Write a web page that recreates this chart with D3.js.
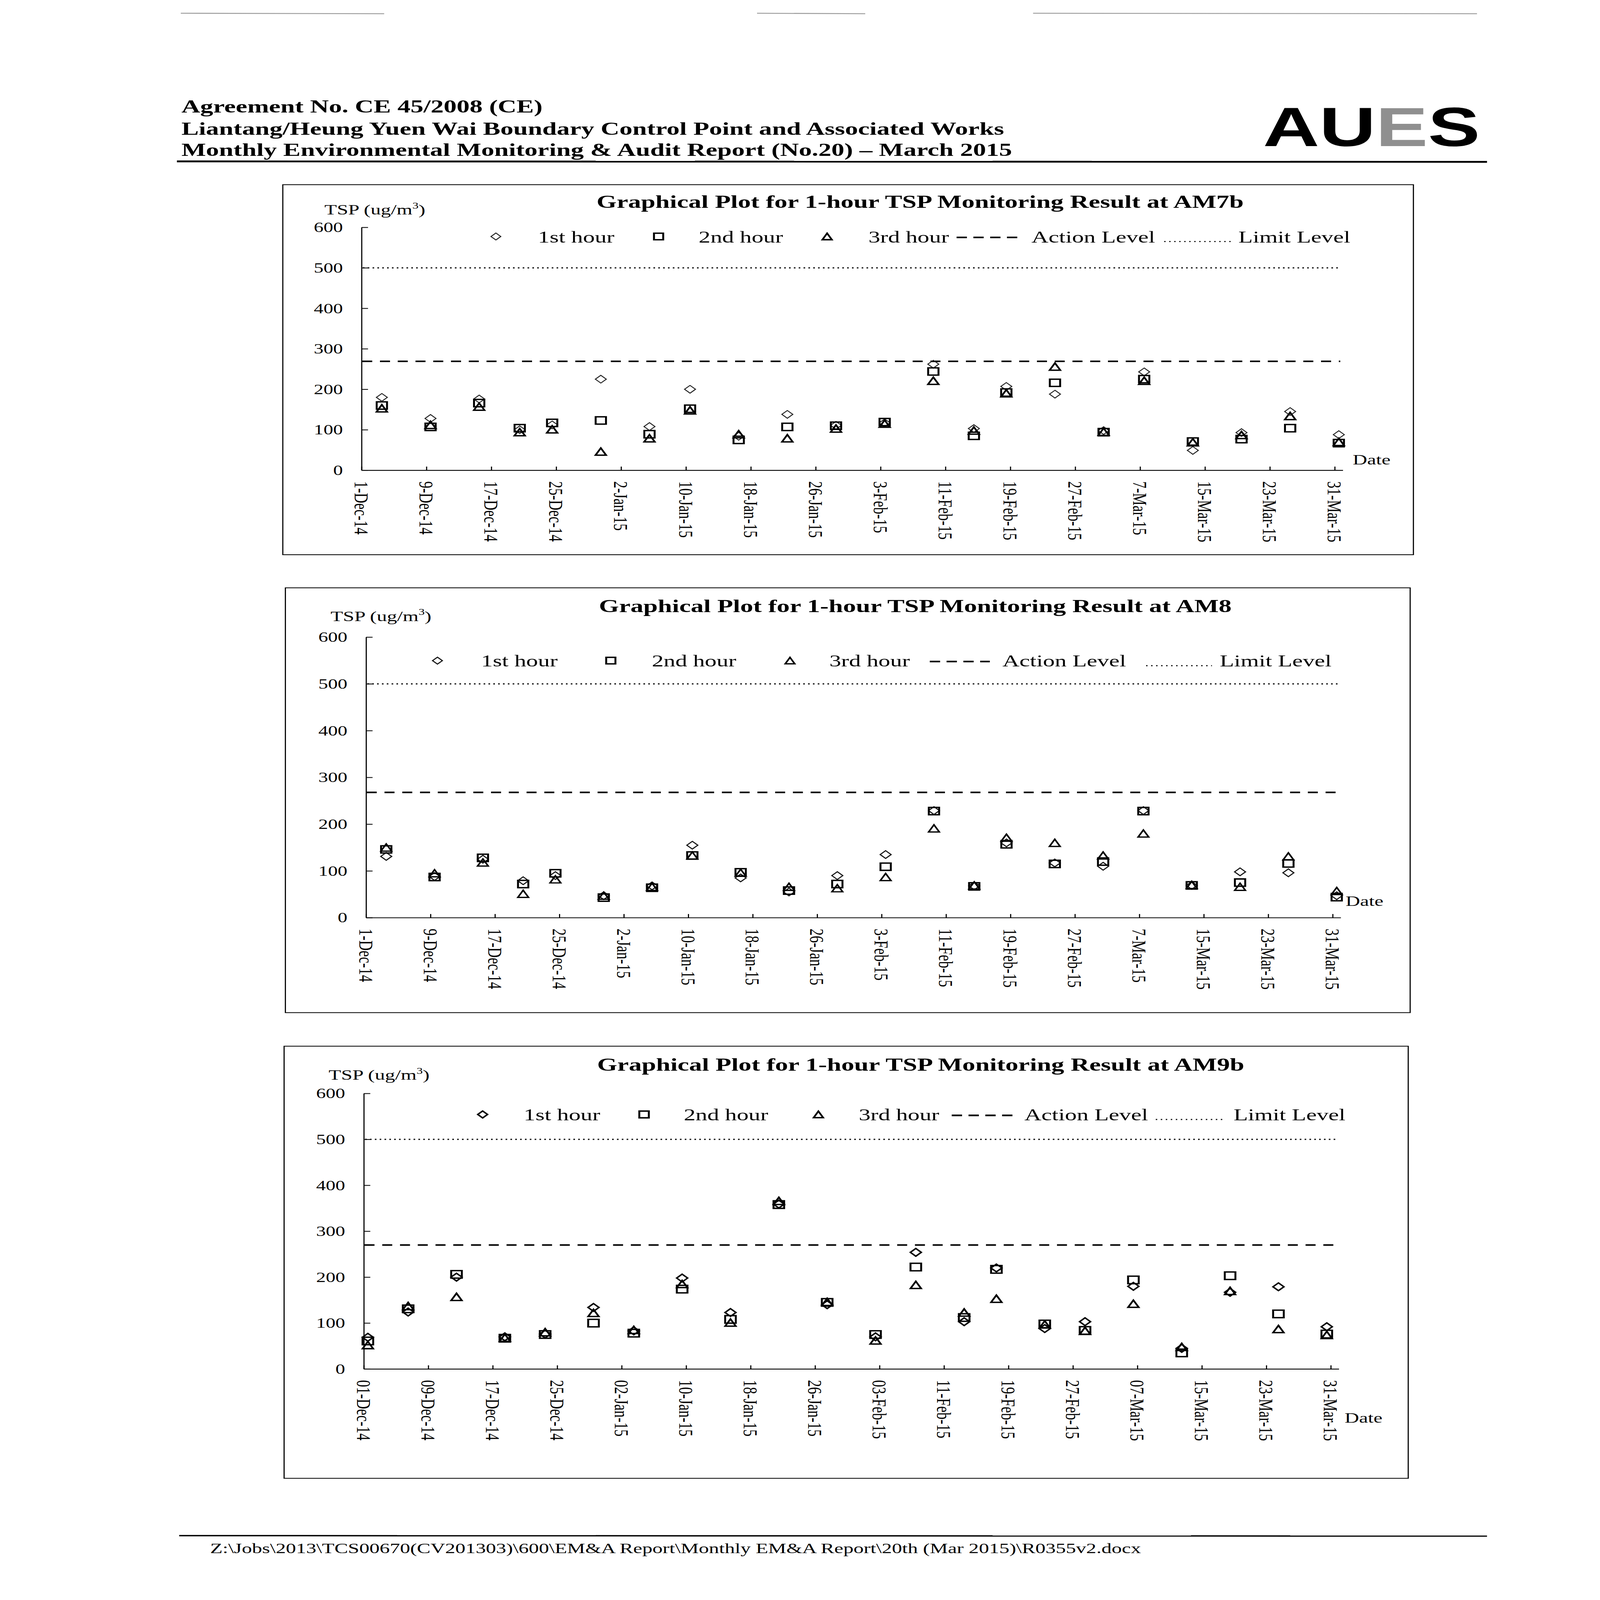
<!DOCTYPE html>
<html>
<head>
<meta charset="utf-8">
<script src="https://cdn.jsdelivr.net/npm/d3@7"></script>
<style>
html,body{margin:0;padding:0;background:#fff;overflow:hidden;}
svg{display:block;}
</style>
</head>
<body>
<svg id="page" xmlns="http://www.w3.org/2000/svg"></svg>
<script>
// ---------------- DATA ----------------
const stationNames = ["AM7b", "AM8", "AM9b"];
const yTickValues = [0, 100, 200, 300, 400, 500, 600];
const tickLabelsShort = ["1-Dec-14","9-Dec-14","17-Dec-14","25-Dec-14","2-Jan-15","10-Jan-15","18-Jan-15","26-Jan-15","3-Feb-15","11-Feb-15","19-Feb-15","27-Feb-15","7-Mar-15","15-Mar-15","23-Mar-15","31-Mar-15"];
const tickLabelsPadded = ["01-Dec-14","09-Dec-14","17-Dec-14","25-Dec-14","02-Jan-15","10-Jan-15","18-Jan-15","26-Jan-15","03-Feb-15","11-Feb-15","19-Feb-15","27-Feb-15","07-Mar-15","15-Mar-15","23-Mar-15","31-Mar-15"];
const legendLabels = ["1st hour", "2nd hour", "3rd hour", "Action Level", "Limit Level"];
const actionLevels = [269, 268, 270];
const limitLevel = 500;

const datesAM7bAM8 = ["2014-12-03","2014-12-09","2014-12-15","2014-12-20","2014-12-24","2014-12-30","2015-01-05","2015-01-10","2015-01-16","2015-01-22","2015-01-28","2015-02-03","2015-02-09","2015-02-14","2015-02-18","2015-02-24","2015-03-02","2015-03-07","2015-03-13","2015-03-19","2015-03-25","2015-03-31"];
const datesAM9b = ["2014-12-01","2014-12-06","2014-12-12","2014-12-18","2014-12-23","2014-12-29","2015-01-03","2015-01-09","2015-01-15","2015-01-21","2015-01-27","2015-02-02","2015-02-07","2015-02-13","2015-02-17","2015-02-23","2015-02-28","2015-03-06","2015-03-12","2015-03-18","2015-03-24","2015-03-30"];

const am7bHour1 = [180,128,176,100,112,225,108,200,84,138,111,117,262,103,207,188,98,243,49,93,145,88];
const am7bHour2 = [160,107,166,104,117,123,89,152,75,107,110,119,244,85,192,216,94,225,71,77,104,67];
const am7bHour3 = [153,112,157,94,101,46,79,148,89,79,103,115,221,98,190,256,95,221,69,87,134,70];

const am8Hour1 = [131,88,125,79,90,47,68,155,85,55,90,135,229,68,160,117,110,229,69,98,96,47];
const am8Hour2 = [146,87,128,72,95,43,64,133,97,58,72,109,228,67,157,115,120,228,69,75,116,44];
const am8Hour3 = [150,95,118,51,82,47,66,133,96,66,63,87,191,69,171,160,133,180,70,66,131,57];

const am9bHour1 = [69,124,200,70,76,134,83,198,123,359,140,70,254,103,220,88,103,180,45,167,179,92];
const am9bHour2 = [61,131,206,67,75,100,78,174,108,358,145,75,222,112,217,98,84,194,35,203,120,76];
const am9bHour3 = [52,137,157,68,80,122,85,185,101,366,146,62,183,123,153,97,83,142,48,170,87,74];

// ---------------- PAGE ----------------
const PW = 4956, PH = 7009;
const vw = window.innerWidth || document.documentElement.clientWidth || PW;
const vh = window.innerHeight || document.documentElement.clientHeight || PH;
const svg = d3.select("#page")
  .attr("width", vw).attr("height", vh)
  .attr("viewBox", `0 0 ${PW} ${PH}`)
  .attr("preserveAspectRatio", "none");
const serif = "'Liberation Serif','Times New Roman',serif";
const sans = "'Liberation Sans',Arial,sans-serif";

svg.append("rect").attr("width", PW).attr("height", PH).attr("fill", "#fff");

// faint scan lines at top
[[560,1190],[2345,2680],[3200,4575]].forEach(s => {
  svg.append("line").attr("x1", s[0]).attr("x2", s[1]).attr("y1", 58).attr("y2", 60)
    .attr("stroke", "#9a9a9a").attr("stroke-width", 4);
});

// header
const headerLines = [
  "Agreement No. CE 45/2008 (CE)",
  "Liantang/Heung Yuen Wai Boundary Control Point and Associated Works",
  "Monthly Environmental Monitoring & Audit Report (No.20) \u2013 March 2015"
];
const headerBase = [492, 590, 683];
headerLines.forEach((t, i) => {
  svg.append("text").attr("x", 562).attr("y", headerBase[i])
    .attr("font-family", serif).attr("font-weight", "bold").attr("font-size", 80.5)
    .attr("fill", "#000").text(t);
});
svg.append("line").attr("x1", 548).attr("x2", 4606).attr("y1", 707).attr("y2", 709)
  .attr("stroke", "#000").attr("stroke-width", 8);

// logo
const logo = svg.append("text").attr("x", 3912).attr("y", 640)
  .attr("font-family", sans).attr("font-weight", "bold").attr("font-size", 242);
logo.append("tspan").attr("fill", "#000").text("AU");
logo.append("tspan").attr("fill", "#8f8f8f").text("E");
logo.append("tspan").attr("fill", "#000").text("S");

// footer
svg.append("line").attr("x1", 555).attr("x2", 4606).attr("y1", 6727).attr("y2", 6729)
  .attr("stroke", "#000").attr("stroke-width", 6);
svg.append("text").attr("x", 651).attr("y", 6803)
  .attr("font-family", serif).attr("font-size", 63).attr("fill", "#000")
  .text("Z:\\Jobs\\2013\\TCS00670(CV201303)\\600\\EM&A Report\\Monthly EM&A Report\\20th (Mar 2015)\\R0355v2.docx");

// ---------------- SYMBOLS ----------------
const diamondType = { draw(ctx, size) { const r = Math.sqrt(size) / 2; ctx.moveTo(0, -r); ctx.lineTo(r, 0); ctx.lineTo(0, r); ctx.lineTo(-r, 0); ctx.closePath(); } };
const squareType = { draw(ctx, size) { const s = Math.sqrt(size); ctx.rect(-s / 2, -s / 2, s, s); } };
const triangleType = { draw(ctx, size) { const w = Math.sqrt(size), h = w * 0.95; ctx.moveTo(0, -h / 2); ctx.lineTo(w / 2, h / 2); ctx.lineTo(-w / 2, h / 2); ctx.closePath(); } };

const parseISO = d3.utcParse("%Y-%m-%d");
const parseTick = d3.utcParse("%d-%b-%y");

// ---------------- CHART LAYOUTS ----------------
const charts = [
  {
    name: stationNames[0], dates: datesAM7bAM8, series: [am7bHour1, am7bHour2, am7bHour3],
    action: actionLevels[0], ticks: tickLabelsShort,
    box: [876, 809, 4378, 2430], x0: 1120, dw: 25.12, y0: 2060, y600: 996,
    title: [2850, 910], ylab: [1005, 940], date: [4190, 2034],
    legY: 1036, legX: { m1: 1536, t1: 1666, m2: 2040, t2: 2164, m3: 2562, t3: 2690, d0: 2963, d1: 3156, a: 3195, l0: 3606, l1: 3816, lt: 3836 },
    mstyle: [{ type: diamondType, size: 1156, sw: 3.5, col: "#222" }, { type: squareType, size: 1024, sw: 6, col: "#000" }, { type: triangleType, size: 1089, sw: 6, col: "#000" }]
  },
  {
    name: stationNames[1], dates: datesAM7bAM8, series: [am8Hour1, am8Hour2, am8Hour3],
    action: actionLevels[1], ticks: tickLabelsShort,
    box: [884, 2575, 4368, 4436], x0: 1134, dw: 24.95, y0: 4020, y600: 2791,
    title: [2835, 2682], ylab: [1024, 2720], date: [4168, 3968],
    legY: 2894, legX: { m1: 1355, t1: 1490, m2: 1892, t2: 2019, m3: 2447, t3: 2569, d0: 2880, d1: 3066, a: 3105, l0: 3550, l1: 3754, lt: 3778 },
    mstyle: [{ type: diamondType, size: 1156, sw: 4, col: "#111" }, { type: squareType, size: 1024, sw: 6, col: "#000" }, { type: triangleType, size: 1089, sw: 5.5, col: "#000" }]
  },
  {
    name: stationNames[2], dates: datesAM9b, series: [am9bHour1, am9bHour2, am9bHour3],
    action: actionLevels[2], ticks: tickLabelsPadded,
    box: [880, 4583, 4362, 6476], x0: 1127, dw: 24.96, y0: 5997, y600: 4790,
    title: [2852, 4690], ylab: [1018, 4730], date: [4165, 6232],
    legY: 4882, legX: { m1: 1495, t1: 1622, m2: 1995, t2: 2118, m3: 2535, t3: 2660, d0: 2948, d1: 3139, a: 3173, l0: 3580, l1: 3797, lt: 3821 },
    mstyle: [{ type: diamondType, size: 1156, sw: 5.5, col: "#000" }, { type: squareType, size: 1089, sw: 6, col: "#000" }, { type: triangleType, size: 1089, sw: 6, col: "#000" }]
  }
];

const xStart = parseISO("2014-12-01");
const xEnd = parseISO("2015-04-01");

charts.forEach(c => {
  const g = svg.append("g");
  g.append("rect").attr("x", c.box[0]).attr("y", c.box[1])
    .attr("width", c.box[2] - c.box[0]).attr("height", c.box[3] - c.box[1])
    .attr("fill", "none").attr("stroke", "#000").attr("stroke-width", 3.5);

  const nDays = d3.utcDay.count(xStart, xEnd);
  const x = d3.scaleUtc().domain([xStart, xEnd]).range([c.x0, c.x0 + nDays * c.dw]);
  const y = d3.scaleLinear().domain([0, 600]).range([c.y0, c.y600]);

  g.append("line").attr("x1", x.range()[0] + 4).attr("x2", x.range()[1] - 8)
    .attr("y1", y(limitLevel)).attr("y2", y(limitLevel))
    .attr("stroke", "#000").attr("stroke-width", 5).attr("stroke-dasharray", "5,10");
  g.append("line").attr("x1", x.range()[0] + 2).attr("x2", x.range()[1] - 8)
    .attr("y1", y(c.action)).attr("y2", y(c.action))
    .attr("stroke", "#000").attr("stroke-width", 7).attr("stroke-dasharray", "31,24");

  const yAxis = g.append("g").attr("transform", `translate(${c.x0},0)`)
    .call(d3.axisLeft(y).tickValues(yTickValues).tickSize(-20).tickSizeOuter(0).tickPadding(58));
  yAxis.attr("font-family", serif).attr("font-size", 60);
  yAxis.select(".domain").attr("stroke", "#000").attr("stroke-width", 3.5);
  yAxis.selectAll(".tick line").attr("stroke", "#000").attr("stroke-width", 3.5);
  yAxis.selectAll(".tick text").attr("fill", "#000").attr("dy", "0.34em");

  const tickDates = c.ticks.map(parseTick);
  const xAxis = g.append("g").attr("transform", `translate(0,${c.y0})`)
    .call(d3.axisBottom(x).tickValues(tickDates).tickFormat((d, i) => c.ticks[i]).tickSize(-16).tickSizeOuter(0));
  xAxis.attr("font-family", serif).attr("font-size", 62);
  xAxis.select(".domain").attr("stroke", "#000").attr("stroke-width", 3.5);
  xAxis.selectAll(".tick line").attr("stroke", "#000").attr("stroke-width", 3.5);
  xAxis.selectAll(".tick text").attr("fill", "#000")
    .attr("transform", "rotate(90)").attr("text-anchor", "start")
    .attr("x", 48).attr("y", 0).attr("dy", "0.35em");

  c.series.forEach((vals, si) => {
    const st = c.mstyle[si];
    const sym = d3.symbol().type(st.type).size(st.size);
    g.append("g").selectAll("path").data(vals.map((v, i) => ({ d: parseISO(c.dates[i]), v })))
      .join("path")
      .attr("d", sym)
      .attr("transform", p => `translate(${x(d3.utcHour.offset(p.d, 12))},${y(p.v)})`)
      .attr("fill", "none").attr("stroke", st.col).attr("stroke-width", st.sw)
      .attr("stroke-linejoin", "miter");
  });

  g.append("text").attr("x", c.title[0]).attr("y", c.title[1]).attr("text-anchor", "middle")
    .attr("font-family", serif).attr("font-weight", "bold").attr("font-size", 80).attr("fill", "#000")
    .text(`Graphical Plot for 1-hour TSP Monitoring Result at ${c.name}`);

  const yl = g.append("text").attr("x", c.ylab[0]).attr("y", c.ylab[1])
    .attr("font-family", serif).attr("font-size", 63).attr("fill", "#000");
  yl.append("tspan").text("TSP (ug/m");
  yl.append("tspan").attr("font-size", 38).attr("dy", -26).text("3");
  yl.append("tspan").attr("dy", 26).text(")");

  g.append("text").attr("x", c.date[0]).attr("y", c.date[1])
    .attr("font-family", serif).attr("font-size", 62).attr("fill", "#000").text("Date");

  const L = c.legX, ly = c.legY, tb = ly + 26;
  [[L.m1, 0], [L.m2, 1], [L.m3, 2]].forEach(([mx, si]) => {
    const st = c.mstyle[si];
    g.append("path").attr("d", d3.symbol().type(st.type).size(st.size * 0.8)())
      .attr("transform", `translate(${mx},${ly})`)
      .attr("fill", "none").attr("stroke", st.col).attr("stroke-width", st.sw);
  });
  [[L.t1, 0], [L.t2, 1], [L.t3, 2], [L.a, 3], [L.lt, 4]].forEach(([tx, li]) => {
    g.append("text").attr("x", tx).attr("y", tb)
      .attr("font-family", serif).attr("font-size", 73).attr("fill", "#000").text(legendLabels[li]);
  });
  g.append("line").attr("x1", L.d0).attr("x2", L.d1).attr("y1", ly + 4).attr("y2", ly + 4)
    .attr("stroke", "#000").attr("stroke-width", 7).attr("stroke-dasharray", "32,20");
  g.append("line").attr("x1", L.l0).attr("x2", L.l1).attr("y1", ly + 22).attr("y2", ly + 22)
    .attr("stroke", "#000").attr("stroke-width", 4.5).attr("stroke-dasharray", "4.5,11");
});
</script>
</body>
</html>
